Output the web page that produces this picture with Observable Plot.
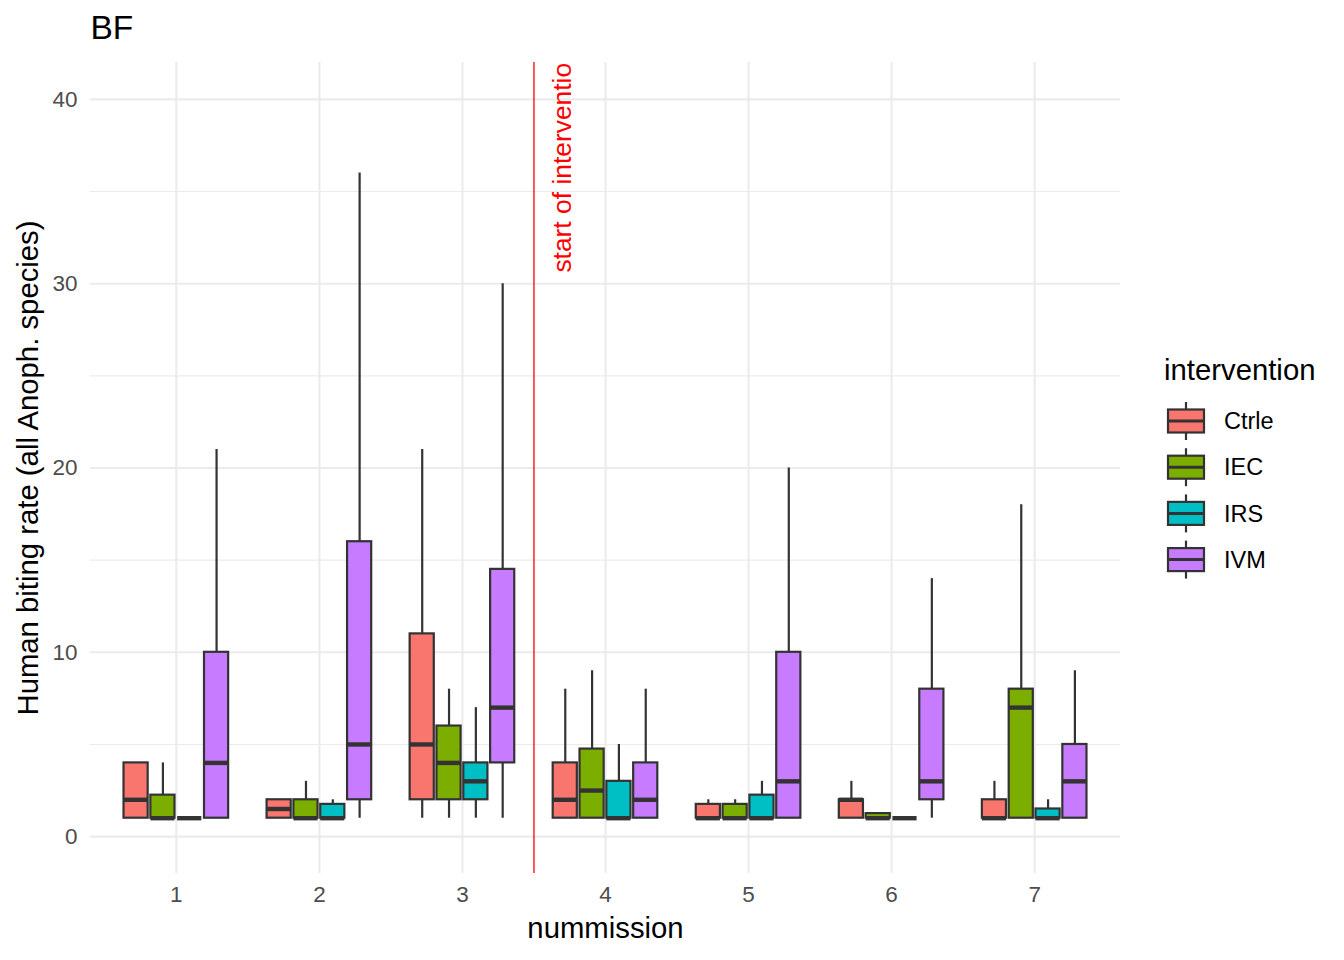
<!DOCTYPE html>
<html>
<head>
<meta charset="utf-8">
<script src="https://cdn.jsdelivr.net/npm/d3@7"></script>
<script src="https://cdn.jsdelivr.net/npm/@observablehq/plot@0.6"></script>
<style>
  body { margin: 0; background: #fff; }
  #chart { position: relative; width: 1344px; height: 960px; }
</style>
</head>
<body>
<div id="chart"></div>
<script>
// ---- data ----
const missions = [1, 2, 3, 4, 5, 6, 7];
const interventions = ["Ctrle", "IEC", "IRS", "IVM"];
const colors = ["#F8766D", "#7CAE00", "#00BFC4", "#C77CFF"];
// per mission: [lower whisker, Q1, median, Q3, upper whisker]
const ctrleStats = [[1,1,2,4,4],[1,1,1.5,2,2],[1,2,5,11,21],[1,1,2,4,8],[1,1,1,1.75,2],[1,1,2,2,3],[1,1,1,2,3]];
const iecStats   = [[1,1,1,2.25,4],[1,1,1,2,3],[1,2,4,6,8],[1,1,2.5,4.75,9],[1,1,1,1.75,2],[1,1,1,1.25,1.25],[1,1,7,8,18]];
const irsStats   = [[1,1,1,1,1],[1,1,1,1.75,2],[1,2,3,4,7],[1,1,1,3,5],[1,1,1,2.25,3],[1,1,1,1,1],[1,1,1,1.5,2]];
const ivmStats   = [[1,1,4,10,21],[1,2,5,16,36],[1,4,7,14.5,30],[1,1,2,4,8],[1,1,3,10,20],[1,2,3,8,14],[1,1,3,5,9]];
const yTicks = [0, 10, 20, 30, 40];
const yMinorTicks = [5, 15, 25, 35];
const interventionStart = [3.5];
const annotation = [{x: 3.70, y: 30.6, label: "start of interventio"}];
const titleText = "BF";
const xTitle = "nummission";
const yTitle = "Human biting rate (all Anoph. species)";
const legendTitle = "intervention";

// ---- table ----
const statsBy = [ctrleStats, iecStats, irsStats, ivmStats];
const rows = [];
interventions.forEach((name, k) => statsBy[k].forEach((s, m) => rows.push({
  mission: missions[m], intervention: name, k,
  lo: s[0], q1: s[1], med: s[2], q3: s[3], hi: s[4]
})));

const dodge = 0.75 / interventions.length;
const boxW = dodge * 0.9;
const center = d => d.mission + (d.k - (interventions.length - 1) / 2) * dodge;
const left = d => center(d) - boxW / 2;
const right = d => center(d) + boxW / 2;

const font = "Liberation Sans, Arial, Helvetica, sans-serif";

const svg = Plot.plot({
  width: 1344, height: 960,
  marginLeft: 90, marginRight: 224, marginTop: 62, marginBottom: 87,
  style: {fontFamily: font, background: "#fff", overflow: "visible"},
  x: {domain: [0.4, 7.6]},
  y: {domain: [-2, 42]},
  color: {domain: interventions, range: colors},
  marks: [
    Plot.gridY(yMinorTicks, {stroke: "#ebebeb", strokeOpacity: 1, strokeWidth: 1.1}),
    Plot.gridY(yTicks, {stroke: "#ebebeb", strokeOpacity: 1, strokeWidth: 2.1}),
    Plot.gridX(missions, {stroke: "#ebebeb", strokeOpacity: 1, strokeWidth: 2.1}),
    Plot.axisY(yTicks, {tickSize: 0, tickPadding: 13, fontSize: 22.5, color: "#4d4d4d", label: null, tickFormat: d => String(d)}),
    Plot.axisX(missions, {tickSize: 0, tickPadding: 13, fontSize: 22.5, color: "#4d4d4d", label: null, tickFormat: d => String(d)}),
    Plot.ruleX(rows, {x: center, y1: "lo", y2: "hi", stroke: "#333333", strokeWidth: 2.2}),
    Plot.rect(rows, {x1: left, x2: right, y1: "q1", y2: "q3", fill: "intervention", stroke: "#333333", strokeWidth: 2.2}),
    Plot.ruleY(rows, {x1: left, x2: right, y: "med", stroke: "#333333", strokeWidth: 4.4}),
    Plot.ruleX(interventionStart, {stroke: "red", strokeWidth: 1.3}),
    Plot.text(annotation, {x: "x", y: "y", text: "label", rotate: -90, textAnchor: "start", lineAnchor: "middle", fill: "red", fontSize: 26.4}),
    Plot.text([yTitle], {text: d => d, frameAnchor: "left", textAnchor: "middle", lineAnchor: "middle", rotate: -90, dx: -62, fontSize: 29.3, fill: "black"}),
    Plot.text([xTitle], {text: d => d, frameAnchor: "bottom", textAnchor: "middle", lineAnchor: "middle", dy: 55, fontSize: 29.3, fill: "black"}),
    Plot.text([titleText], {text: d => d, frameAnchor: "top-left", textAnchor: "start", lineAnchor: "middle", dy: -34, fontSize: 33.5, fill: "black"})
  ]
});

// ---- legend ----
const lg = d3.select(svg).append("g").attr("font-family", font).attr("text-anchor", "start");
lg.append("text").attr("x", 1164).attr("y", 380).attr("font-size", 29.3).attr("fill", "black").text(legendTitle);
interventions.forEach((name, i) => {
  const cy = 421 + 46.2 * i;
  const g = lg.append("g");
  g.append("line").attr("x1", 1186).attr("x2", 1186).attr("y1", cy - 19).attr("y2", cy + 19)
    .attr("stroke", "#333333").attr("stroke-width", 2.2);
  g.append("rect").attr("x", 1168).attr("y", cy - 11.5).attr("width", 36).attr("height", 23)
    .attr("fill", colors[i]).attr("stroke", "#333333").attr("stroke-width", 2.2);
  g.append("line").attr("x1", 1168).attr("x2", 1204).attr("y1", cy).attr("y2", cy)
    .attr("stroke", "#333333").attr("stroke-width", 3);
  g.append("text").attr("x", 1224).attr("y", cy).attr("dy", "0.35em").attr("font-size", 23.5)
    .attr("fill", "black").text(name);
});

document.getElementById("chart").appendChild(svg);
</script>
</body>
</html>
